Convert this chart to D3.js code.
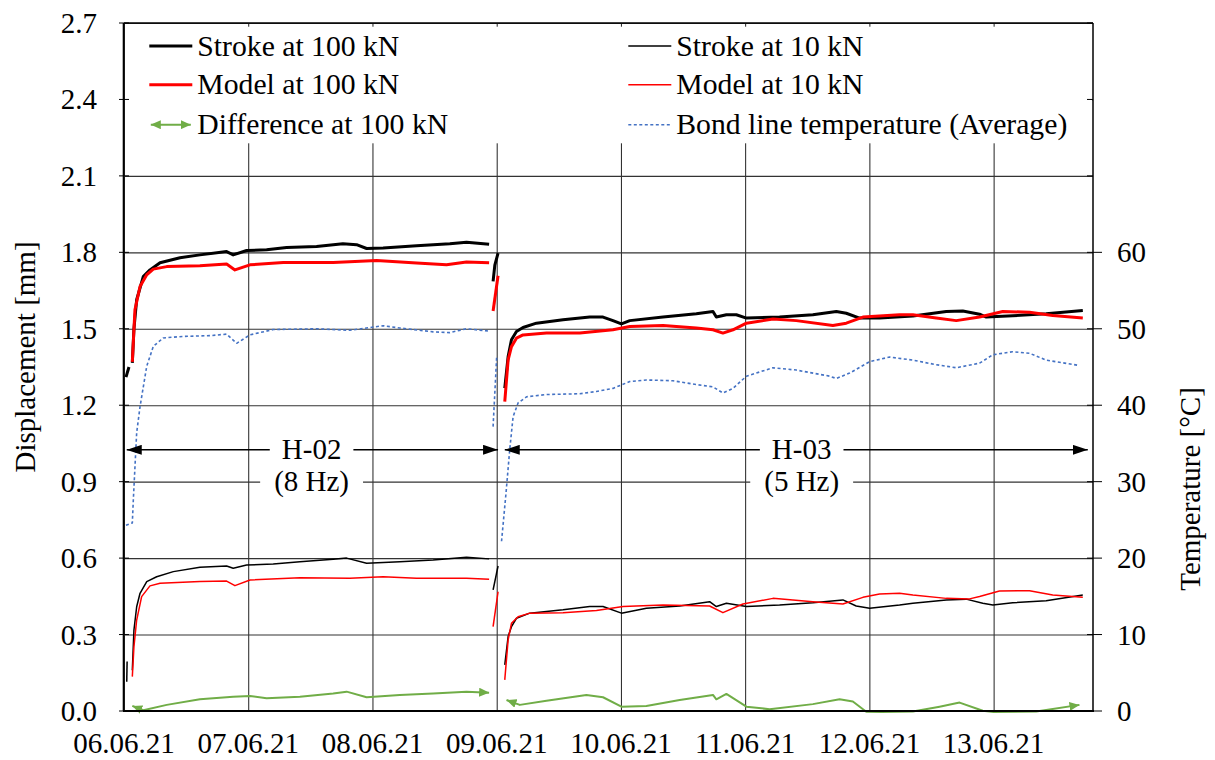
<!DOCTYPE html>
<html>
<head>
<meta charset="utf-8">
<script src="https://cdn.jsdelivr.net/npm/d3@7"></script>
<style>
  body { margin: 0; background: #fff; }
  svg text { font-family: "Liberation Serif", "Times New Roman", serif; font-size: 29px; fill: #000; }
</style>
</head>
<body>
<svg id="svg1" width="1215" height="760"></svg>
<script>
// day offsets are counted from 06.06.21 00:00
const startDate = new Date(2021, 5, 6);
const dayCount = 7.8;

const yTicks = [0, 0.3, 0.6, 0.9, 1.2, 1.5, 1.8, 2.1, 2.4, 2.7];
const tempTicks = [0, 10, 20, 30, 40, 50, 60];
const dayTicks = [0, 1, 2, 3, 4, 5, 6, 7];

// each series is a list of segments, each segment [day, value]
const stroke100 = [
  [[0.016, 1.31], [0.040, 1.35]],
  [[0.067, 1.366], [0.080, 1.50], [0.102, 1.614], [0.155, 1.705], [0.209, 1.731], [0.290, 1.759], [0.451, 1.779],
   [0.611, 1.790], [0.826, 1.803], [0.879, 1.790], [0.987, 1.807], [1.148, 1.810], [1.309, 1.819], [1.550, 1.823],
   [1.762, 1.834], [1.872, 1.830], [1.953, 1.815], [2.086, 1.817], [2.355, 1.826], [2.623, 1.834], [2.757, 1.840], [2.939, 1.832]],
  [[2.971, 1.686], [2.985, 1.75], [3.011, 1.797]],
  [[3.065, 1.267], [3.092, 1.391], [3.119, 1.457], [3.159, 1.489], [3.212, 1.505], [3.320, 1.522], [3.534, 1.535],
   [3.749, 1.546], [3.856, 1.546], [3.936, 1.532], [4.004, 1.519], [4.071, 1.532], [4.339, 1.546], [4.607, 1.559],
   [4.741, 1.568], [4.768, 1.546], [4.849, 1.555], [4.929, 1.555], [5.010, 1.542], [5.277, 1.546], [5.545, 1.555],
   [5.734, 1.568], [5.814, 1.561], [5.921, 1.542], [6.082, 1.542], [6.350, 1.550], [6.619, 1.568], [6.752, 1.570],
   [6.887, 1.557], [6.941, 1.546], [7.154, 1.551], [7.423, 1.559], [7.718, 1.572]]
];

const model100 = [
  [[0.067, 1.37], [0.088, 1.574], [0.129, 1.666], [0.183, 1.712], [0.236, 1.734], [0.344, 1.744], [0.611, 1.747],
   [0.826, 1.754], [0.893, 1.731], [1.014, 1.751], [1.282, 1.760], [1.684, 1.760], [2.033, 1.768], [2.355, 1.758],
   [2.596, 1.751], [2.757, 1.762], [2.939, 1.759]],
  [[2.971, 1.570], [3.011, 1.708]],
  [[3.065, 1.214], [3.092, 1.378], [3.119, 1.430], [3.159, 1.463], [3.212, 1.476], [3.401, 1.483], [3.669, 1.483],
   [3.936, 1.496], [4.071, 1.509], [4.339, 1.513], [4.607, 1.503], [4.741, 1.496], [4.821, 1.483], [4.902, 1.496],
   [5.010, 1.522], [5.224, 1.538], [5.412, 1.532], [5.706, 1.513], [5.814, 1.522], [5.948, 1.546], [6.243, 1.555],
   [6.350, 1.555], [6.538, 1.542], [6.699, 1.532], [6.887, 1.546], [7.074, 1.568], [7.289, 1.565], [7.476, 1.552], [7.718, 1.542]]
];

const stroke10 = [
  [[0.022, 0.115], [0.025, 0.194]],
  [[0.067, 0.16], [0.080, 0.318], [0.102, 0.409], [0.129, 0.462], [0.183, 0.508], [0.263, 0.527], [0.397, 0.547],
   [0.611, 0.564], [0.826, 0.569], [0.879, 0.560], [0.987, 0.573], [1.201, 0.577], [1.416, 0.586], [1.684, 0.596],
   [1.792, 0.600], [1.953, 0.580], [2.220, 0.586], [2.488, 0.593], [2.757, 0.603], [2.939, 0.597]],
  [[2.971, 0.475], [3.011, 0.569]],
  [[3.065, 0.181], [3.092, 0.292], [3.119, 0.331], [3.159, 0.364], [3.266, 0.384], [3.534, 0.397], [3.749, 0.410],
   [3.856, 0.410], [4.004, 0.384], [4.205, 0.403], [4.473, 0.412], [4.714, 0.429], [4.768, 0.410], [4.849, 0.423],
   [5.010, 0.410], [5.277, 0.416], [5.545, 0.425], [5.787, 0.436], [5.894, 0.412], [6.002, 0.403], [6.243, 0.416],
   [6.350, 0.423], [6.619, 0.436], [6.779, 0.439], [6.913, 0.423], [6.994, 0.416], [7.154, 0.425], [7.423, 0.433], [7.718, 0.455]]
];

const model10 = [
  [[0.067, 0.135], [0.080, 0.252], [0.102, 0.357], [0.142, 0.449], [0.209, 0.491], [0.290, 0.501], [0.611, 0.508],
   [0.826, 0.510], [0.893, 0.492], [1.014, 0.514], [1.416, 0.523], [1.818, 0.521], [2.086, 0.527], [2.355, 0.521],
   [2.757, 0.521], [2.939, 0.517]],
  [[2.971, 0.331], [3.011, 0.468]],
  [[3.065, 0.122], [3.092, 0.279], [3.119, 0.344], [3.172, 0.370], [3.266, 0.384], [3.534, 0.386], [3.803, 0.394],
   [4.017, 0.410], [4.339, 0.416], [4.714, 0.412], [4.821, 0.386], [4.982, 0.420], [5.224, 0.442], [5.545, 0.429],
   [5.787, 0.420], [5.948, 0.446], [6.082, 0.459], [6.243, 0.462], [6.350, 0.455], [6.619, 0.442], [6.806, 0.440],
   [6.887, 0.449], [7.047, 0.471], [7.289, 0.472], [7.476, 0.455], [7.718, 0.446]]
];

const diff100 = [
  [[0.067, 0.020], [0.155, 0.003], [0.344, 0.024], [0.611, 0.046], [0.879, 0.056], [1.014, 0.059], [1.148, 0.050],
   [1.416, 0.056], [1.684, 0.069], [1.792, 0.076], [1.953, 0.054], [2.220, 0.063], [2.488, 0.069], [2.757, 0.076], [2.939, 0.072]],
  [[3.079, 0.043], [3.186, 0.024], [3.401, 0.040], [3.722, 0.063], [3.856, 0.054], [4.004, 0.017], [4.205, 0.020],
   [4.473, 0.043], [4.741, 0.063], [4.768, 0.046], [4.849, 0.067], [5.010, 0.017], [5.197, 0.007], [5.545, 0.027],
   [5.760, 0.046], [5.867, 0.037], [5.975, -0.003], [6.100, -0.030], [6.350, -0.002], [6.565, 0.017], [6.726, 0.033],
   [6.913, 0.001], [7.000, -0.020], [7.343, -0.002], [7.423, 0.004], [7.691, 0.024]]
];

// bond line temperature in °C
const bondTemp = [
  [[0.016, 24.3], [0.067, 24.6], [0.075, 27.6], [0.102, 36.4], [0.129, 39.8], [0.183, 45.1], [0.236, 47.7],
   [0.316, 48.8], [0.477, 49.0], [0.692, 49.1], [0.826, 49.3], [0.907, 48.1], [1.014, 49.2], [1.201, 49.9],
   [1.550, 50.0], [1.818, 49.8], [2.086, 50.4], [2.220, 50.1], [2.488, 49.6], [2.623, 49.5], [2.757, 50.0], [2.939, 49.7]],
  [[2.971, 37.2], [3.000, 46.4]],
  [[3.039, 22.2], [3.075, 28.5], [3.105, 34.2], [3.132, 38.5], [3.172, 40.3], [3.240, 41.1], [3.401, 41.4],
   [3.669, 41.5], [3.803, 41.8], [3.936, 42.2], [4.071, 43.1], [4.205, 43.3], [4.419, 43.2], [4.607, 42.7],
   [4.741, 42.4], [4.821, 41.6], [4.902, 42.2], [5.010, 43.8], [5.224, 44.9], [5.412, 44.6], [5.680, 43.8],
   [5.734, 43.5], [5.841, 44.2], [6.002, 45.7], [6.163, 46.3], [6.350, 45.9], [6.538, 45.3], [6.699, 44.9],
   [6.887, 45.5], [6.994, 46.6], [7.154, 47.0], [7.289, 46.8], [7.423, 45.9], [7.691, 45.2]]
];

// test periods
const periodNames = ["H-02", "H-03"];
const periodFreqs = ["(8 Hz)", "(5 Hz)"];
const periodStart = [0.022, 3.065];
const periodEnd = [3.011, 7.758];
const periodLabelDay = [1.51, 5.455];

const legendLabels = ["Stroke at 100 kN", "Model at 100 kN", "Difference at 100 kN",
                      "Stroke at 10 kN", "Model at 10 kN", "Bond line temperature (Average)"];

const FONT = '"Liberation Serif", "Times New Roman", Times, serif';

const svg1 = d3.select("#svg1");
const width1 = +svg1.attr("width");
const height1 = +svg1.attr("height");
const margin = { top: 23, right: 122, bottom: 49, left: 124 };
const innerWidth = width1 - margin.left - margin.right;
const innerHeight = height1 - margin.top - margin.bottom;

const toDate = d => new Date(startDate.getTime() + d * 864e5);
const dateFmt = d3.timeFormat("%d.%m.%y");

const xScale = d3.scaleTime().domain([startDate, toDate(dayCount)]).range([0, innerWidth]);
const yScale = d3.scaleLinear().domain([0, 2.7]).range([innerHeight, 0]);
const tScale = d3.scaleLinear().domain([0, 90]).range([innerHeight, 0]); // 60 °C sits on 1.8 mm

const a = svg1.append("g").attr("transform", `translate(${margin.left}, ${margin.top})`);

// markers for the arrows
const defs = svg1.append("defs");
defs.append("clipPath").attr("id", "plotClip")
  .append("rect").attr("x", 0).attr("y", 0).attr("width", innerWidth).attr("height", innerHeight);
const addMarker = (id, color, len, half) => {
  defs.append("marker").attr("id", id)
    .attr("markerUnits", "userSpaceOnUse")
    .attr("viewBox", `0 ${-half} ${len} ${2 * half}`)
    .attr("refX", len).attr("refY", 0)
    .attr("markerWidth", len).attr("markerHeight", 2 * half)
    .attr("orient", "auto-start-reverse")
    .append("path").attr("d", `M0,${-half}L${len},0L0,${half}Z`).attr("fill", color);
};
addMarker("arrBlack", "#000", 15, 5);
addMarker("arrGreen", "#70AD47", 10, 4.5);

/* gridlines from the axes (labels drawn separately below) */
const xGrid = a.append("g")
  .attr("transform", `translate(0, ${innerHeight})`)
  .call(d3.axisBottom(xScale).tickValues(dayTicks.map(toDate)).tickFormat("").tickSize(-innerHeight));
xGrid.select(".domain").remove();
xGrid.selectAll("line").attr("stroke", "#222").attr("stroke-width", 1);

const yGrid = a.append("g")
  .call(d3.axisLeft(yScale).tickValues(yTicks).tickFormat("").tickSize(-innerWidth));
yGrid.select(".domain").remove();
yGrid.selectAll("line").attr("stroke", "#333").attr("stroke-width", 1.1);

// white legend area hides the gridlines at the top
a.append("rect")
  .attr("x", 1).attr("y", 3.7)
  .attr("width", innerWidth - 2).attr("height", 116.6)
  .attr("fill", "#fff");

// small cross ticks on the left, inside ticks on the right
a.selectAll(".ltick").data(yTicks).enter().append("line")
  .attr("x1", -5).attr("x2", 5)
  .attr("y1", d => yScale(d)).attr("y2", d => yScale(d))
  .attr("stroke", "#000").attr("stroke-width", 1);
a.selectAll(".rtick").data(yTicks).enter().append("line")
  .attr("x1", innerWidth - 6).attr("x2", innerWidth)
  .attr("y1", d => yScale(d)).attr("y2", d => yScale(d))
  .attr("stroke", "#000").attr("stroke-width", 1);

/* series */
const series = [
  { segs: stroke100, scale: yScale, color: "#000", width: 3, dash: null },
  { segs: model100, scale: yScale, color: "#FF0000", width: 3, dash: null },
  { segs: stroke10, scale: yScale, color: "#000", width: 1.5, dash: null },
  { segs: model10, scale: yScale, color: "#FF0000", width: 1.5, dash: null },
  { segs: bondTemp, scale: tScale, color: "#4472C4", width: 1.6, dash: "3,2.5" }
];

const plot = a.append("g").attr("clip-path", "url(#plotClip)");

series.forEach(s => {
  const line = d3.line()
    .x(d => xScale(toDate(d[0])))
    .y(d => s.scale(d[1]));
  plot.selectAll(null).data(s.segs).enter().append("path")
    .attr("d", line)
    .attr("fill", "none")
    .attr("stroke", s.color)
    .attr("stroke-width", s.width)
    .attr("stroke-linejoin", "round")
    .attr("stroke-dasharray", s.dash);
});

// difference line with arrow heads on both ends
const diffLine = d3.line()
  .x(d => xScale(toDate(d[0])))
  .y(d => yScale(d[1]));
a.selectAll(".diff").data(diff100).enter().append("path")
  .attr("d", d => diffLine(d.map(p => [p[0], Math.max(p[1], -0.004)])))
  .attr("fill", "none")
  .attr("stroke", "#70AD47")
  .attr("stroke-width", 2)
  .attr("stroke-linejoin", "round")
  .attr("marker-start", "url(#arrGreen)")
  .attr("marker-end", "url(#arrGreen)");

/* test period annotations */
const arrowY = yScale(1.025);
const freqY = yScale(0.9);
periodNames.forEach((name, i) => {
  a.append("line")
    .attr("x1", xScale(toDate(periodStart[i]))).attr("x2", xScale(toDate(periodEnd[i])))
    .attr("y1", arrowY).attr("y2", arrowY)
    .attr("stroke", "#000").attr("stroke-width", 1.5)
    .attr("marker-start", "url(#arrBlack)")
    .attr("marker-end", "url(#arrBlack)");

  [[name, arrowY, 12], [periodFreqs[i], freqY, 14]].forEach(([txt, y, pad]) => {
    const g = a.append("g");
    const t = g.append("text")
      .attr("x", xScale(toDate(periodLabelDay[i])))
      .attr("y", y + 9.6)
      .attr("text-anchor", "middle")
      .style("font-family", FONT).style("font-size", "29px")
      .text(txt);
    const w = t.node().getComputedTextLength();
    g.insert("rect", "text")
      .attr("x", xScale(toDate(periodLabelDay[i])) - w / 2 - pad)
      .attr("y", y - 14)
      .attr("width", w + 2 * pad)
      .attr("height", 28)
      .attr("fill", "#fff");
  });
});

/* frame */
a.append("line").attr("x1", 0).attr("x2", innerWidth).attr("y1", 0).attr("y2", 0)
  .attr("stroke", "#000").attr("stroke-width", 1.3);
a.append("line").attr("x1", innerWidth).attr("x2", innerWidth).attr("y1", 0).attr("y2", innerHeight)
  .attr("stroke", "#000").attr("stroke-width", 1.5);
a.append("line").attr("x1", -0.5).attr("x2", -0.5).attr("y1", 0).attr("y2", innerHeight)
  .attr("stroke", "#000").attr("stroke-width", 1.6);
a.append("line").attr("x1", -1).attr("x2", innerWidth + 1).attr("y1", innerHeight).attr("y2", innerHeight)
  .attr("stroke", "#000").attr("stroke-width", 2.2);

// outside ticks of the temperature axis
a.selectAll(".ttick").data(tempTicks).enter().append("line")
  .attr("x1", innerWidth).attr("x2", innerWidth + 9)
  .attr("y1", d => tScale(d)).attr("y2", d => tScale(d))
  .attr("stroke", "#000").attr("stroke-width", 1);

/* tick labels */
a.selectAll(".xlab").data(dayTicks).enter().append("text")
  .attr("x", d => xScale(toDate(d)))
  .attr("y", innerHeight + 42)
  .attr("text-anchor", "middle")
  .text(d => dateFmt(toDate(d)));
a.selectAll(".ylab").data(yTicks).enter().append("text")
  .attr("x", -27)
  .attr("y", d => yScale(d) + 10)
  .attr("text-anchor", "end")
  .text(d => d3.format(".1f")(d));
a.selectAll(".tlab").data(tempTicks).enter().append("text")
  .attr("x", innerWidth + 24)
  .attr("y", d => tScale(d) + 10)
  .text(d => d);

/* axis titles */
svg1.append("text")
  .attr("transform", `translate(35, 357) rotate(-90)`)
  .attr("text-anchor", "middle")
  .text("Displacement [mm]");
svg1.append("text")
  .attr("transform", `translate(1200, 489) rotate(-90)`)
  .attr("text-anchor", "middle")
  .text("Temperature [°C]");

// force the serif face on every label
svg1.selectAll("text")
  .style("font-family", FONT)
  .style("font-size", "29px")
  .style("fill", "#000");

/* legend */
const legendStyle = [
  { color: "#000", width: 3, dash: null, arrows: false },
  { color: "#FF0000", width: 3, dash: null, arrows: false },
  { color: "#70AD47", width: 2, dash: null, arrows: true },
  { color: "#000", width: 1.5, dash: null, arrows: false },
  { color: "#FF0000", width: 1.5, dash: null, arrows: false },
  { color: "#4472C4", width: 1.6, dash: "3,2.5", arrows: false }
];
const legendX = [25.3, 504.3];
const legendY = [23, 61.7, 101.7];
const legend = a.append("g");
legendLabels.forEach((label, i) => {
  const lx = legendX[Math.floor(i / 3)];
  const ly = legendY[i % 3];
  const st = legendStyle[i];
  const ln = legend.append("line")
    .attr("x1", lx + (st.arrows ? 1.5 : 0)).attr("x2", lx + (st.arrows ? 41.5 : 43))
    .attr("y1", ly).attr("y2", ly)
    .attr("stroke", st.color).attr("stroke-width", st.width)
    .attr("stroke-dasharray", st.dash);
  if (st.arrows) ln.attr("marker-start", "url(#arrGreen)").attr("marker-end", "url(#arrGreen)");
  legend.append("text")
    .attr("x", lx + 48)
    .attr("y", ly + 9.7)
    .style("font-family", FONT)
    .style("font-size", "29.7px")
    .style("fill", "#000")
    .text(label);
});
</script>
</body>
</html>
